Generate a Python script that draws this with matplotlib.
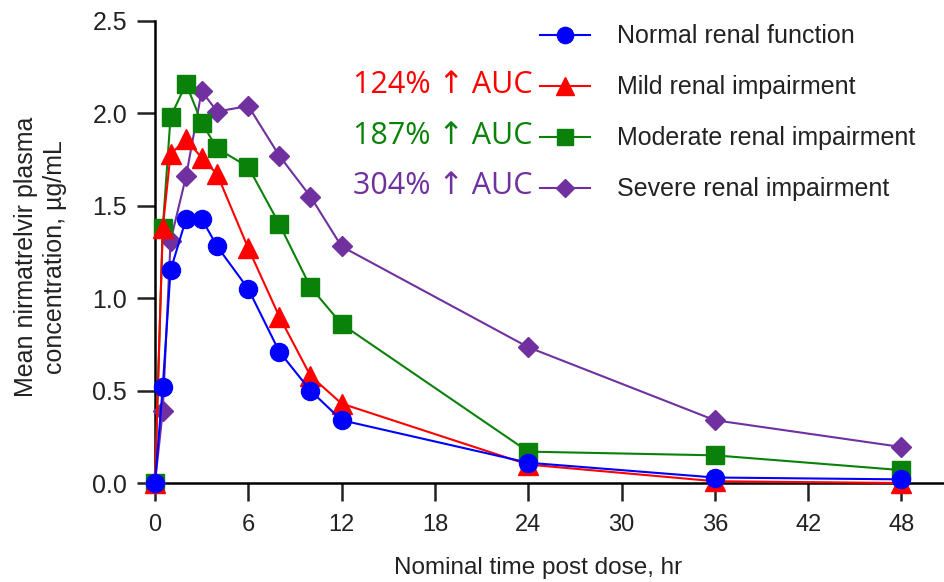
import matplotlib
matplotlib.use("Agg")
import matplotlib.pyplot as plt

# nominal sampling times (hr)
time_hr = [0, 0.5, 1, 2, 3, 4, 6, 8, 10, 12, 24, 36, 48]

# mean plasma concentration, ug/mL
normal = [0.0, 0.52, 1.15, 1.43, 1.43, 1.28, 1.05, 0.71, 0.50, 0.34, 0.11, 0.03, 0.02]
mild = [0.0, 1.38, 1.78, 1.86, 1.76, 1.67, 1.27, 0.90, 0.58, 0.43, 0.10, 0.01, 0.0]
moderate = [0.0, 1.38, 1.98, 2.16, 1.95, 1.81, 1.71, 1.40, 1.06, 0.86, 0.17, 0.15, 0.07]
severe = [0.0, 0.39, 1.31, 1.66, 2.12, 2.01, 2.04, 1.77, 1.55, 1.28, 0.735, 0.34, 0.195]

group_names = ["Normal renal function", "Mild renal impairment",
               "Moderate renal impairment", "Severe renal impairment"]
auc_labels = ["", "124% \u2191 AUC", "187% \u2191 AUC", "304% \u2191 AUC"]
x_ticks = [0, 6, 12, 18, 24, 30, 36, 42, 48]
y_ticks = [0.0, 0.5, 1.0, 1.5, 2.0, 2.5]

colors = ["#0000ff", "#ff0000", "#0a820a", "#7030a0"]
markers = ["o", "^", "s", "D"]
msizes = [13, 14, 13, 10]
text_col = "#222222"

fig = plt.figure(figsize=(9.45, 5.82), dpi=100)
ax = fig.add_axes([0.164, 0.170, 0.836, 0.794])

series = [normal, mild, moderate, severe]
# draw severe first so normal sits on top like the original
for i in [3, 2, 1, 0]:
    ax.plot(time_hr, series[i], color=colors[i], marker=markers[i],
            markersize=msizes[i], linewidth=1.5, label=group_names[i],
            clip_on=False, zorder=3 + (3 - i))

ax.set_xlim(0, 50.8)
ax.set_ylim(0, 2.5)
ax.set_xticks(x_ticks)
ax.set_yticks(y_ticks)
ax.set_yticklabels([f"{v:.1f}" for v in y_ticks])

for s in ["top", "right"]:
    ax.spines[s].set_visible(False)
for s in ["left", "bottom"]:
    ax.spines[s].set_linewidth(1.8)
ax.tick_params(direction="out", length=13, width=1.8, colors=text_col)
ax.tick_params(axis="x", pad=9)
ax.tick_params(axis="y", pad=7)

for lab in ax.get_xticklabels():
    lab.set_family("Liberation Sans")
    lab.set_fontsize(17)
for lab in ax.get_yticklabels():
    lab.set_family("Liberation Sans")
    lab.set_fontsize(18)

ax.set_xlabel("Nominal time post dose, hr", fontsize=17.5, color=text_col,
              family="Liberation Sans")
ax.xaxis.label.set_va("center")
ax.xaxis.set_label_coords(0.485, -0.184)

ax.set_ylabel("Mean nirmatrelvir plasma\nconcentration, \u00b5g/mL", fontsize=18,
              color=text_col, family="Liberation Sans", linespacing=1.25)
ax.yaxis.label.set_va("center")
ax.yaxis.set_label_coords(-0.145, 0.49)

# legend in original order
handles, labels = ax.get_legend_handles_labels()
order = [labels.index(n) for n in group_names]
leg = fig.legend([handles[k] for k in order], [labels[k] for k in order],
                 loc="upper left", bbox_to_anchor=(0.571, 0.958), frameon=False,
                 prop={"family": "Liberation Sans", "size": 18},
                 handlelength=2.0, handletextpad=1.1, labelspacing=1.08,
                 borderpad=0, borderaxespad=0, markerscale=0.9)
for t in leg.get_texts():
    t.set_color(text_col)

# AUC increase annotations next to the legend
row_y = [35, 85, 136, 186]
for i in range(1, 4):
    fig.text(533 / 945, 1 - row_y[i] / 582, auc_labels[i], color=colors[i],
             fontsize=22, ha="right", va="center",
             family=["Open Sans", "DejaVu Sans"])

fig.savefig("out.png", dpi=100)
